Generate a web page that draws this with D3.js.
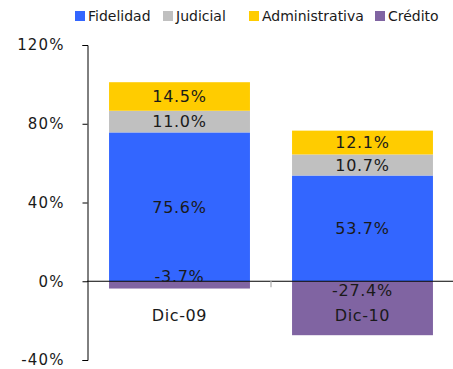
<!DOCTYPE html>
<html>
<head>
<meta charset="utf-8">
<script src="https://cdn.jsdelivr.net/npm/d3@7"></script>
<style>
  html, body { margin: 0; padding: 0; background: #fff; }
  svg { display: block; font-family: "DejaVu Sans", Verdana, sans-serif; }
</style>
</head>
<body>
<svg id="chart" width="453" height="369"></svg>
<script>
// Stacked percentages per period
const categories = ["Dic-09", "Dic-10"];
const seriesNames = ["Fidelidad", "Judicial", "Administrativa", "Crédito"];
const fidelidad = [75.6, 53.7];
const judicial = [11.0, 10.7];
const administrativa = [14.5, 12.1];
const credito = [-3.7, -27.4];
const yTicks = [-40, 0, 40, 80, 120];

const colors = ["#3366FF", "#C0C0C0", "#FFCC00", "#8064A2"];
const seriesValues = [fidelidad, judicial, administrativa, credito];

const svg = d3.select("#chart");
const W = 453;

const y = d3.scaleLinear().domain([-40, 120]).range([360, 45]);
const x = d3.scaleBand().domain(categories).range([88, 454]).paddingInner(0.23).paddingOuter(0.115);

// Build stacked segments: positives stack upward, negatives downward
const segments = [];
categories.forEach((cat, ci) => {
  let pos = 0, neg = 0;
  seriesValues.forEach((vals, si) => {
    const v = vals[ci];
    let y0, y1;
    if (v >= 0) { y0 = pos; y1 = pos + v; pos = y1; }
    else { y0 = neg; y1 = neg + v; neg = y1; }
    segments.push({ cat, si, v, y0, y1 });
  });
});

// Bars
svg.append("g").selectAll("rect").data(segments).join("rect")
  .attr("x", d => x(d.cat))
  .attr("width", x.bandwidth())
  .attr("y", d => y(Math.max(d.y0, d.y1)))
  .attr("height", d => Math.abs(y(d.y0) - y(d.y1)))
  .attr("fill", d => colors[d.si]);

// Zero line
svg.append("line")
  .attr("x1", 87).attr("x2", W).attr("y1", y(0)).attr("y2", y(0))
  .attr("stroke", "#000").attr("stroke-width", 1);

// Category separators below the zero line
categories.slice(1).forEach(c => {
  const bx = x(c) - (x.step() - x.bandwidth()) / 2;
  svg.append("line")
    .attr("x1", bx).attr("x2", bx)
    .attr("y1", y(0)).attr("y2", y(0) + 6)
    .attr("stroke", "#bdbdbd").attr("stroke-width", 1.5);
});

// Y axis
const yAxis = d3.axisLeft(y).tickValues(yTicks).tickSize(5).tickPadding(18)
  .tickFormat(d => d + "%");
const ga = svg.append("g").attr("transform", "translate(87.5,0)").call(yAxis);
ga.select(".domain").attr("stroke", "#000");
ga.selectAll(".tick line").attr("stroke", "#000");
ga.selectAll(".tick text")
  .attr("font-size", 15).attr("fill", "#1a1a1a")
  .style("letter-spacing", "1.1px")
  .attr("font-family", "DejaVu Sans, Verdana, sans-serif");

// Category labels
svg.append("g").selectAll("text").data(categories).join("text")
  .attr("x", d => x(d) + x.bandwidth() / 2)
  .attr("y", y(0) + 40)
  .attr("text-anchor", "middle")
  .attr("font-size", 16)
  .style("letter-spacing", "0.6px")
  .attr("fill", "#1a1a1a")
  .text(d => d);

// Data labels
svg.append("g").selectAll("text").data(segments).join("text")
  .attr("x", d => x(d.cat) + x.bandwidth() / 2)
  .attr("y", d => {
    if (d.v >= 0) return y((d.y0 + d.y1) / 2);
    const h = Math.abs(y(d.y1) - y(d.y0));
    return h < 16 ? y(0) - 5 : y(0) + 9;
  })
  .attr("dy", "0.36em")
  .attr("text-anchor", "middle")
  .attr("font-size", 16)
  .style("letter-spacing", "0.7px")
  .attr("fill", "#1a1a1a")
  .text(d => d.v.toFixed(1) + "%");

// Legend
const legendX = [75, 163, 249, 375];
const lg = svg.append("g").selectAll("g").data(seriesNames).join("g")
  .attr("transform", (d, i) => `translate(${legendX[i]},16)`);
lg.append("rect").attr("x", 0).attr("y", -5).attr("width", 10).attr("height", 10)
  .attr("fill", (d, i) => colors[i]);
lg.append("text").attr("x", 13).attr("y", 0).attr("dy", "0.36em")
  .attr("font-size", 14).attr("fill", "#1a1a1a").text(d => d);
</script>
</body>
</html>
